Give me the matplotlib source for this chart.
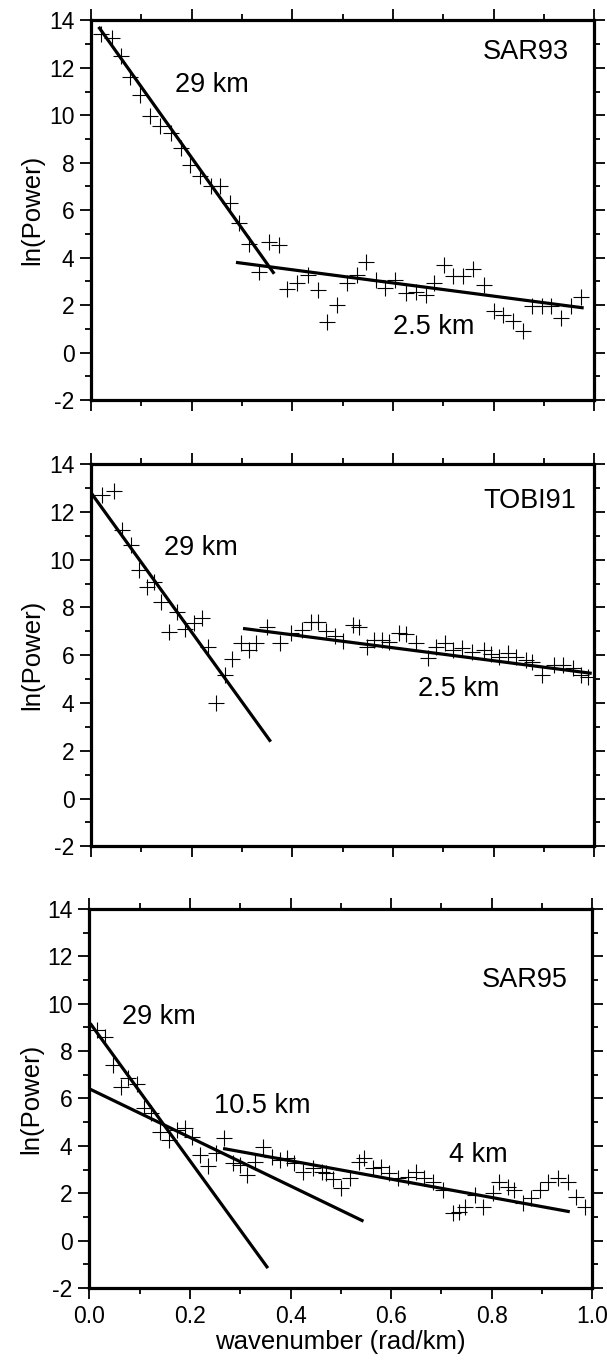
import numpy as np
import matplotlib.pyplot as plt
from matplotlib.ticker import MultipleLocator

plt.rcParams['font.family'] = ['Liberation Sans', 'DejaVu Sans']
plt.rcParams['axes.unicode_minus'] = False

# SAR93 spectrum
k_sar93 = [0.020, 0.042, 0.060, 0.078, 0.098, 0.118, 0.138, 0.158, 0.178, 0.197,
           0.217, 0.239, 0.256, 0.277, 0.294, 0.313, 0.333, 0.353, 0.373, 0.390,
           0.410, 0.431, 0.451, 0.469, 0.489, 0.508, 0.529, 0.547, 0.567, 0.585,
           0.605, 0.625, 0.645, 0.665, 0.681, 0.701, 0.720, 0.740, 0.759, 0.781,
           0.801, 0.819, 0.839, 0.859, 0.877, 0.897, 0.915, 0.934, 0.953, 0.973]
p_sar93 = [13.41, 13.27, 12.49, 11.62, 10.85, 9.96, 9.54, 9.26, 8.63, 7.92,
           7.43, 7.01, 7.01, 6.31, 5.46, 4.58, 3.38, 4.65, 4.55, 2.68,
           2.93, 3.26, 2.65, 1.27, 2.02, 2.93, 3.28, 3.80, 3.07, 2.72,
           3.07, 2.51, 2.54, 2.44, 2.93, 3.70, 3.24, 3.24, 3.52, 2.86,
           1.73, 1.60, 1.31, 0.89, 1.97, 1.95, 1.95, 1.46, 1.97, 2.34]

# TOBI91 spectrum
k_tobi91 = [0.022, 0.046, 0.062, 0.079, 0.095, 0.112, 0.125, 0.139, 0.155, 0.170,
            0.187, 0.205, 0.220, 0.233, 0.249, 0.266, 0.281, 0.298, 0.314, 0.327,
            0.349, 0.375, 0.397, 0.420, 0.438, 0.452, 0.467, 0.484, 0.500, 0.520,
            0.533, 0.549, 0.563, 0.579, 0.592, 0.612, 0.626, 0.646, 0.669, 0.685,
            0.704, 0.720, 0.738, 0.758, 0.781, 0.795, 0.811, 0.828, 0.844, 0.864,
            0.877, 0.897, 0.920, 0.937, 0.957, 0.974, 0.987]
p_tobi91 = [12.70, 12.88, 11.24, 10.61, 9.56, 8.87, 9.08, 8.24, 6.98, 7.82,
            7.08, 7.33, 7.54, 6.36, 3.99, 5.17, 5.83, 6.50, 6.22, 6.50,
            7.19, 6.50, 6.92, 7.05, 7.40, 7.40, 7.00, 6.80, 6.60, 7.26,
            7.19, 6.36, 6.64, 6.64, 6.56, 6.92, 6.89, 6.50, 5.87, 6.36,
            6.50, 6.22, 6.29, 6.15, 6.22, 6.05, 5.94, 6.08, 5.94, 5.80,
            5.73, 5.17, 5.59, 5.59, 5.45, 5.17, 5.10]

# SAR95 spectrum
k_sar95 = [0.015, 0.032, 0.047, 0.063, 0.078, 0.095, 0.108, 0.122, 0.141, 0.158,
           0.175, 0.191, 0.205, 0.221, 0.236, 0.251, 0.268, 0.286, 0.299, 0.313,
           0.329, 0.346, 0.364, 0.379, 0.394, 0.406, 0.424, 0.445, 0.462, 0.470,
           0.485, 0.501, 0.518, 0.536, 0.546, 0.563, 0.580, 0.596, 0.613, 0.633,
           0.649, 0.666, 0.683, 0.703, 0.723, 0.735, 0.746, 0.766, 0.782, 0.802,
           0.815, 0.832, 0.845, 0.862, 0.878, 0.895, 0.912, 0.932, 0.952, 0.968,
           0.985]
p_sar95 = [8.89, 8.61, 7.41, 6.50, 6.85, 6.61, 5.59, 5.37, 4.60, 4.25,
           4.67, 4.74, 4.39, 3.62, 3.15, 3.69, 4.32, 3.26, 3.19, 2.77,
           3.33, 3.97, 3.54, 3.40, 3.47, 3.26, 2.90, 3.05, 2.88, 2.84,
           2.60, 2.21, 2.63, 3.33, 3.47, 3.05, 3.12, 2.84, 2.63, 2.70,
           2.91, 2.63, 2.49, 2.14, 1.15, 1.20, 1.43, 1.93, 1.43, 2.00,
           2.49, 2.28, 2.14, 1.58, 1.79, 2.14, 2.49, 2.63, 2.49, 1.86,
           1.43]

# fitted depth lines: ((k0, k1), (p0, p1))
fits_sar93 = [((0.015, 0.364), (13.73, 3.32)), ((0.288, 0.979), (3.80, 1.88))]
fits_tobi91 = [((0.001, 0.357), (12.77, 2.38)), ((0.302, 0.995), (7.12, 5.24))]
fits_sar95 = [((0.002, 0.355), (9.17, -1.16)), ((0.002, 0.545), (6.39, 0.82)),
              ((0.266, 0.955), (3.89, 1.22))]

# labels: (text, k, p, ha)
labels_sar93 = [("29 km", 0.167, 11.3, "left"), ("2.5 km", 0.68, 1.09, "center"),
                ("SAR93", 0.95, 12.65, "right")]
labels_tobi91 = [("29 km", 0.145, 10.5, "left"), ("2.5 km", 0.73, 4.6, "center"),
                 ("TOBI91", 0.964, 12.45, "right")]
labels_sar95 = [("29 km", 0.065, 9.44, "left"), ("10.5 km", 0.344, 5.68, "center"),
                ("4 km", 0.774, 3.62, "center"), ("SAR95", 0.95, 11.0, "right")]

panels = [
    (k_sar93, p_sar93, fits_sar93, labels_sar93),
    (k_tobi91, p_tobi91, fits_tobi91, labels_tobi91),
    (k_sar95, p_sar95, fits_sar95, labels_sar95),
]

fig = plt.figure(figsize=(6.07, 13.65), dpi=100)
rects = [
    [0.150, 0.707, 0.829, 0.278],
    [0.150, 0.380, 0.829, 0.280],
    [0.147, 0.0564, 0.829, 0.2777],
]

for i, (rect, (k, p, fits, labels)) in enumerate(zip(rects, panels)):
    ax = fig.add_axes(rect)
    ax.plot(k, p, linestyle='none', marker='+', markersize=11,
            markeredgewidth=0.8, color='black')
    for (kx, py) in fits:
        ax.plot(kx, py, color='black', linewidth=2.3, solid_capstyle='butt')
    for (txt, kx, py, ha) in labels:
        ax.text(kx, py, txt, fontsize=19.5, ha=ha, va='center')

    ax.set_xlim(0, 1)
    ax.set_ylim(-2, 14)
    ax.xaxis.set_major_locator(MultipleLocator(0.2))
    ax.xaxis.set_minor_locator(MultipleLocator(0.1))
    ax.yaxis.set_major_locator(MultipleLocator(2))
    ax.yaxis.set_minor_locator(MultipleLocator(1))
    ax.tick_params(which='both', direction='out', top=True, right=True,
                   width=1.3, labelsize=16.5, pad=4)
    ax.tick_params(which='major', length=8)
    ax.tick_params(which='minor', length=4)
    for s in ax.spines.values():
        s.set_linewidth(2.3)
    ax.set_ylabel("ln(Power)", fontsize=18.5, labelpad=3)
    if i < 2:
        ax.tick_params(labelbottom=False)
    else:
        ax.xaxis.set_major_formatter(plt.FormatStrFormatter('%.1f'))
        ax.set_xlabel("wavenumber (rad/km)", fontsize=18.5, labelpad=2)

fig.savefig("out.png", dpi=100)
